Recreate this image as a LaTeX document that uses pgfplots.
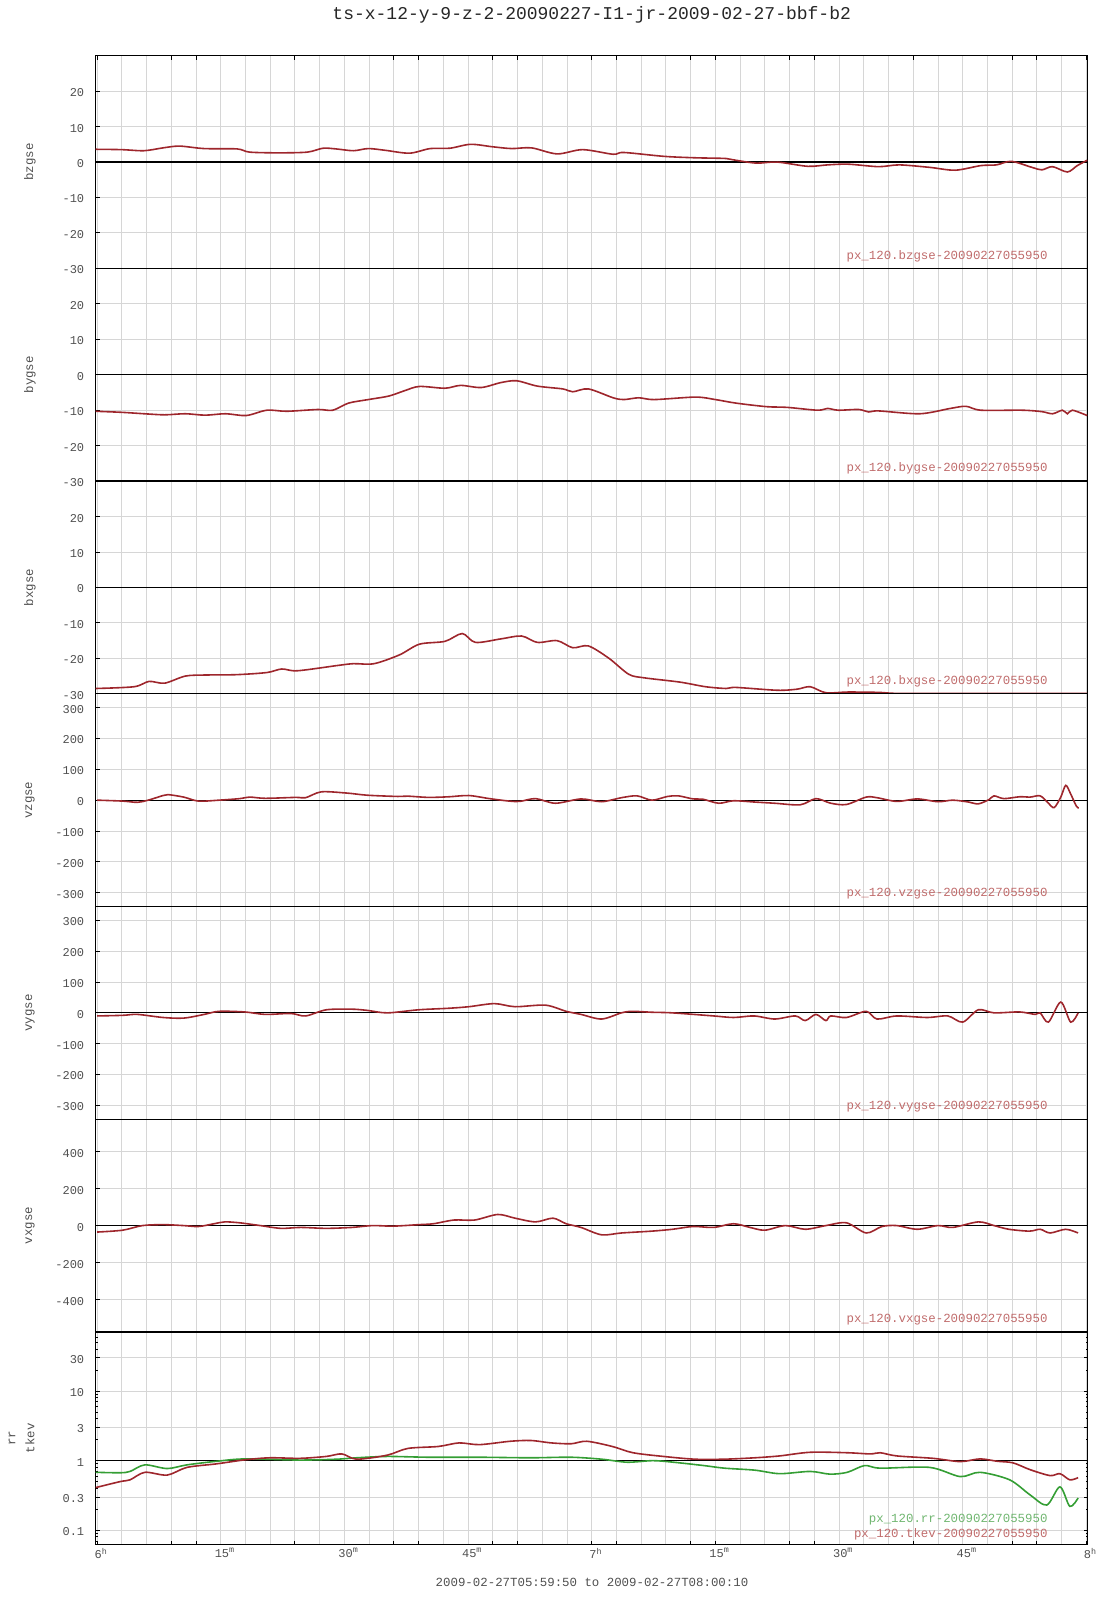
\documentclass[border=0pt]{standalone}
\usepackage{fontspec}
\setmainfont{Liberation Mono}
\usepackage{pgfplots}
\pgfplotsset{compat=1.18}

\definecolor{cred}{RGB}{158,38,44}
\definecolor{cgreen}{RGB}{52,158,52}
\definecolor{lred}{RGB}{192,108,108}
\definecolor{lgreen}{RGB}{112,182,112}
\definecolor{tgray}{RGB}{80,80,80}
\definecolor{gridc}{RGB}{214,214,214}

\newcommand\tlfont{\fontsize{12bp}{14bp}\selectfont}
\newcommand\lbfont{\fontsize{12.4bp}{14bp}\selectfont}

\pgfplotsset{
  panel/.style={
    scale only axis, width=992bp, height=212.7bp, anchor=north west,
    xmin=-0.1667, xmax=120.1667,
    xtick={0,9,12,24,36,39,48,51,60,63,72,75,84,87,99,111,114,120},
    xticklabel=\empty,
    minor xtick={0,3,...,120},
    xminorgrids=true, ymajorgrids=true,
    grid style={draw=gridc, line width=0.9bp},
    major tick length=4bp, minor tick length=2bp,
    tick align=inside,
    tick style={black, line width=0.9bp},
    minor x tick style={draw=none},
    axis line style={black, line width=1.3bp},
    ytick pos=left,
    yticklabel style={font=\tlfont, text=tgray, xshift=-8bp, yshift=-1.5bp},
    xticklabel style={font=\tlfont, text=tgray},
  },
  mid/.style={xtick style={draw=none}},
  bpanel/.style={ymin=-30, ymax=30, ytick={-30,-20,-10,0,10,20}, yticklabels={-30,-20,-10,0,10,20}},
  vpanel/.style={ymin=-345, ymax=345, ytick={-300,-200,-100,0,100,200,300}, yticklabels={-300,-200,-100,0,100,200,300}},
  dataline/.style={cred, line width=1.6bp, smooth},
  zeroline/.style={black, line width=1.1bp},
}

\begin{document}
\begin{tikzpicture}[x=1bp,y=1bp]
\path[use as bounding box] (0,0) rectangle (1107,-1600);

% ---------- bzgse ----------
\begin{axis}[panel, bpanel, at={(95.7bp,-55.7bp)}, xtick pos=right]
\addplot[zeroline] coordinates {(-1,0) (122,0)};
\addplot[dataline] coordinates {(-0.17,3.6) (3,3.5) (5.7,3.2) (8,4.0) (10,4.5) (13,3.8) (17,3.7) (18.5,2.8) (22,2.6) (25.5,2.8) (27.4,3.9) (29,3.7) (31.1,3.2) (32.9,3.8) (35,3.3) (37.9,2.5) (40.4,3.8) (42.8,3.9) (45.3,5.0) (48,4.3) (50.3,3.8) (52.7,4.0) (55.8,2.3) (58.9,3.5) (62.6,2.2) (63.9,2.7) (68.8,1.6) (72.6,1.2) (76.3,1.0) (77.5,0.5) (80,-0.3) (82.5,0) (86.2,-1.2) (88.6,-0.8) (91.1,-0.6) (94.8,-1.3) (97.3,-0.8) (101,-1.5) (104.1,-2.3) (107.2,-1.0) (109.1,-0.8) (110.9,0.2) (113.4,-1.5) (114.6,-2.2) (115.9,-1.3) (117.7,-2.8) (118.9,-1.0) (120.1,0.5)};
\end{axis}

% ---------- bygse ----------
\begin{axis}[panel, bpanel, mid, at={(95.7bp,-268.4bp)}]
\addplot[zeroline] coordinates {(-1,0) (122,0)};
\addplot[dataline] coordinates {(-0.17,-10.3) (3,-10.6) (5.7,-11.0) (8.2,-11.3) (10.7,-11.0) (13.1,-11.4) (15.6,-11.0) (18.1,-11.5) (20.6,-10.0) (23,-10.3) (26.8,-9.8) (28.6,-10.0) (30.5,-8.0) (32.9,-7.0) (35.4,-6.0) (37.3,-4.5) (39.1,-3.3) (42.2,-3.8) (44.1,-3.0) (46.6,-3.6) (49,-2.2) (50.9,-1.7) (53.4,-3.2) (56.5,-4.0) (57.7,-4.8) (59.6,-4.0) (62.6,-6.5) (63.9,-7.0) (65.7,-6.5) (67.6,-7.0) (72.6,-6.3) (75,-7.0) (77.5,-8.0) (81.2,-9.0) (83.7,-9.2) (87.4,-10.0) (88.6,-9.5) (89.9,-10.0) (92.4,-9.8) (93.6,-10.5) (94.8,-10.2) (99.8,-11.0) (103.5,-9.5) (105.4,-8.9) (107.2,-10.0) (112.2,-10.0) (114.6,-10.4) (115.9,-11.0) (117.1,-10.0) (117.7,-11.0) (118.3,-10.0) (120.1,-11.5)};
\end{axis}

% ---------- bxgse ----------
\begin{axis}[panel, bpanel, mid, at={(95.7bp,-481.1bp)}]
\addplot[zeroline] coordinates {(-1,0) (122,0)};
\addplot[dataline] coordinates {(-0.17,-28.5) (4.5,-28) (6.3,-26.5) (8.2,-27) (10.7,-25) (13.1,-24.7) (16.9,-24.6) (20.6,-24) (22.4,-23) (24.3,-23.5) (29.2,-22) (31.1,-21.5) (33.6,-21.5) (36.7,-19) (39.1,-16) (42.2,-15.2) (44.3,-13) (45.9,-15.5) (49.0,-14.5) (51.5,-13.7) (53.4,-15.5) (55.8,-15) (57.7,-17) (59.6,-16.5) (62.1,-20) (64.5,-24.5) (66.4,-25.5) (70.7,-26.7) (73.8,-28) (76.3,-28.5) (77.5,-28.2) (82.5,-29) (84.9,-28.7) (86.5,-28) (88.4,-29.7) (91.1,-29.5) (94.8,-29.6) (97.3,-29.9) (105,-29.9) (112,-29.9) (120.1,-29.9)};
\end{axis}

% ---------- vzgse ----------
\begin{axis}[panel, vpanel, mid, at={(95.7bp,-693.8bp)}]
\addplot[zeroline] coordinates {(-1,0) (122,0)};
\addplot[dataline] coordinates {(0,0) (3.1,-3) (4.9,-7) (6.2,0) (8,15) (8.6,18) (10.5,10) (12.3,-3) (14.8,0) (17.3,5) (18.5,10) (20.4,6) (24.1,9) (25.3,8) (27.2,27) (30.3,23) (32.8,16) (36.5,12) (37.7,13) (40.2,9) (42.7,11) (45.1,15) (47.6,5) (50,-3) (51.3,-4) (53.2,5) (55.6,-10) (58.7,4) (61.2,-5) (63.6,8) (65.5,14) (67.3,0) (69.2,12) (70.5,14) (72.3,4) (73.5,3) (75.4,-10) (77.2,-2) (79.7,-6) (82.2,-10) (85.3,-15) (87.2,5) (89.0,-10) (90.9,-14) (93.3,10) (94.6,8) (97.0,-4) (99.5,4) (102.0,-5) (103.8,0) (105.7,-6) (106.9,-12) (108.2,2) (108.8,14) (110.0,5) (111.9,11) (113.2,10) (114.4,14) (115.4,-10) (116.1,-24) (116.9,10) (117.5,48) (118.1,20) (118.8,-20) (119.1,-25)};
\end{axis}

% ---------- vygse ----------
\begin{axis}[panel, vpanel, mid, at={(95.7bp,-906.5bp)}]
\addplot[zeroline] coordinates {(-1,0) (122,0)};
\addplot[dataline] coordinates {(0,-10) (3.1,-8) (4.9,-5) (8.0,-15) (10.5,-17) (13.0,-5) (14.8,5) (17.9,3) (20.4,-5) (23.5,-2) (25.3,-10) (27.8,10) (30.9,12) (32.8,8) (35.2,0) (39.0,10) (42.7,15) (45.1,20) (48.2,30) (50.7,20) (54.4,25) (56.9,5) (58.7,-5) (61.2,-20) (63.6,0) (64.9,5) (67.3,2) (69.8,0) (74.8,-10) (77.2,-15) (79.7,-10) (82.2,-20) (84.7,-10) (85.9,-25) (87.2,-5) (88.4,-25) (89.0,-10) (90.9,-15) (93.3,5) (94.6,-20) (97.0,-10) (100.7,-15) (103.2,-10) (105.0,-30) (106.9,10) (108.8,0) (111.9,3) (113.8,-5) (114.4,0) (115.4,-30) (116.9,35) (118.1,-30) (119.0,0)};
\end{axis}

% ---------- vxgse ----------
\begin{axis}[panel, mid, at={(95.7bp,-1119.2bp)}, ymin=-575, ymax=575, ytick={-400,-200,0,200,400}, yticklabels={-400,-200,0,200,400}]
\addplot[zeroline] coordinates {(-1,0) (122,0)};
\addplot[dataline] coordinates {(0,-35) (3.1,-25) (5.5,0) (8.0,5) (10.5,0) (12.3,-5) (14.2,10) (15.5,20) (17.3,15) (19.8,0) (22.3,-15) (24.7,-10) (27.8,-15) (30.9,-10) (33.4,0) (35.9,-3) (39.0,5) (40.8,10) (43.3,30) (45.8,30) (48.6,60) (50.7,40) (53.2,20) (55.3,40) (56.9,10) (58.7,-10) (61.2,-50) (63.6,-40) (67.3,-30) (69.8,-20) (72.3,-5) (74.8,-10) (77.2,10) (79.2,-10) (81.0,-25) (83.5,0) (85.9,-20) (88.4,0) (90.9,15) (93.3,-40) (95.2,-5) (97.0,0) (99.5,-20) (102.0,0) (103.8,-10) (106.9,20) (108.8,0) (110.6,-20) (113.1,-30) (114.4,-20) (115.6,-40) (117.5,-20) (119.0,-40)};
\end{axis}

% ---------- rr / tkev ----------
\begin{axis}[panel, at={(95.7bp,-1331.9bp)}, ymode=log, ymin=0.062, ymax=71,
  ytick={0.1,0.3,1,3,10,30}, yticklabels={0.1,0.3,1,3,10,30},
  minor ytick={0.07,0.08,0.09,0.2,0.4,0.5,0.6,0.7,0.8,0.9,2,4,5,6,7,8,9,20,40,50,60,70},
  ytick pos=both, xtick pos=left,
  extra x ticks={0,15,30,45,60,75,90,105,120},
  extra x tick labels={6\textsuperscript{h},15\textsuperscript{m},30\textsuperscript{m},45\textsuperscript{m},7\textsuperscript{h},15\textsuperscript{m},30\textsuperscript{m},45\textsuperscript{m},8\textsuperscript{h}},
  extra x tick style={grid=none, major tick length=0pt},
  xticklabel style={xshift=4bp}]
\addplot[zeroline] coordinates {(-1,1) (122,1)};
\addplot[cgreen, line width=1.6bp, smooth] coordinates {(-0.17,0.68) (2.8,0.67) (4.0,0.7) (5.8,0.87) (8.5,0.77) (10.9,0.87) (14.5,0.98) (18.0,1.06) (24.6,1.02) (29.1,1.05) (31.5,1.1) (35.2,1.15) (40.2,1.12) (46.4,1.12) (52.6,1.1) (57.5,1.12) (61.2,1.05) (64.3,0.95) (67.4,1.0) (69.9,0.95) (73.6,0.85) (76.1,0.78) (79.8,0.73) (82.8,0.65) (86.5,0.7) (88.9,0.64) (91.0,0.68) (93.1,0.85) (95.0,0.78) (101.0,0.8) (104.7,0.59) (107.1,0.68) (110.7,0.53) (113.2,0.32) (115.2,0.23) (116.8,0.42) (118.0,0.22) (119.0,0.29)};
\addplot[dataline] coordinates {(-0.17,0.41) (2.8,0.5) (4.0,0.53) (5.8,0.68) (8.5,0.62) (10.9,0.8) (14.5,0.9) (18.0,1.03) (21.0,1.1) (24.6,1.08) (27.8,1.15) (29.7,1.25) (31.5,1.05) (35.2,1.2) (37.7,1.5) (41.4,1.6) (43.9,1.8) (46.4,1.7) (50.1,1.9) (52.6,1.95) (55.1,1.8) (57.5,1.75) (59.4,1.9) (62.5,1.6) (65.0,1.3) (68.7,1.15) (72.5,1.05) (76.1,1.05) (79.8,1.1) (82.8,1.17) (86.5,1.32) (91.0,1.3) (93.8,1.25) (95.0,1.3) (97.0,1.17) (101.4,1.08) (104.7,0.97) (107.1,1.06) (109.2,0.98) (111.1,0.93) (113.2,0.74) (115.6,0.61) (116.8,0.65) (118.0,0.53) (119.0,0.57)};
\end{axis}

% ---------- texts ----------
\node[font=\fontsize{18bp}{20bp}\selectfont, text=black!85] at (591.7,-15) {ts-x-12-y-9-z-2-20090227-I1-jr-2009-02-27-bbf-b2};
\node[font=\lbfont, text=tgray] at (592,-1582) {2009-02-27T05:59:50 to 2009-02-27T08:00:10};

\node[rotate=90, font=\lbfont, text=tgray] at (30,-162.05) {bzgse};
\node[rotate=90, font=\lbfont, text=tgray] at (30,-374.75) {bygse};
\node[rotate=90, font=\lbfont, text=tgray] at (30,-587.45) {bxgse};
\node[rotate=90, font=\lbfont, text=tgray] at (30,-800.15) {vzgse};
\node[rotate=90, font=\lbfont, text=tgray] at (30,-1012.85) {vygse};
\node[rotate=90, font=\lbfont, text=tgray] at (30,-1225.55) {vxgse};
\node[rotate=90, font=\lbfont, text=tgray] at (12,-1438.25) {rr};
\node[rotate=90, font=\lbfont, text=tgray] at (30,-1438.25) {tkev};

\node[anchor=east, font=\lbfont, text=lred] at (1051,-255.9) {px\_120.bzgse-20090227055950};
\node[anchor=east, font=\lbfont, text=lred] at (1051,-468.6) {px\_120.bygse-20090227055950};
\node[anchor=east, font=\lbfont, text=lred] at (1051,-681.3) {px\_120.bxgse-20090227055950};
\node[anchor=east, font=\lbfont, text=lred] at (1051,-894.0) {px\_120.vzgse-20090227055950};
\node[anchor=east, font=\lbfont, text=lred] at (1051,-1106.7) {px\_120.vygse-20090227055950};
\node[anchor=east, font=\lbfont, text=lred] at (1051,-1319.4) {px\_120.vxgse-20090227055950};
\node[anchor=east, font=\lbfont, text=lgreen] at (1051,-1519.3) {px\_120.rr-20090227055950};
\node[anchor=east, font=\lbfont, text=lred] at (1051,-1534) {px\_120.tkev-20090227055950};
\end{tikzpicture}
\end{document}
